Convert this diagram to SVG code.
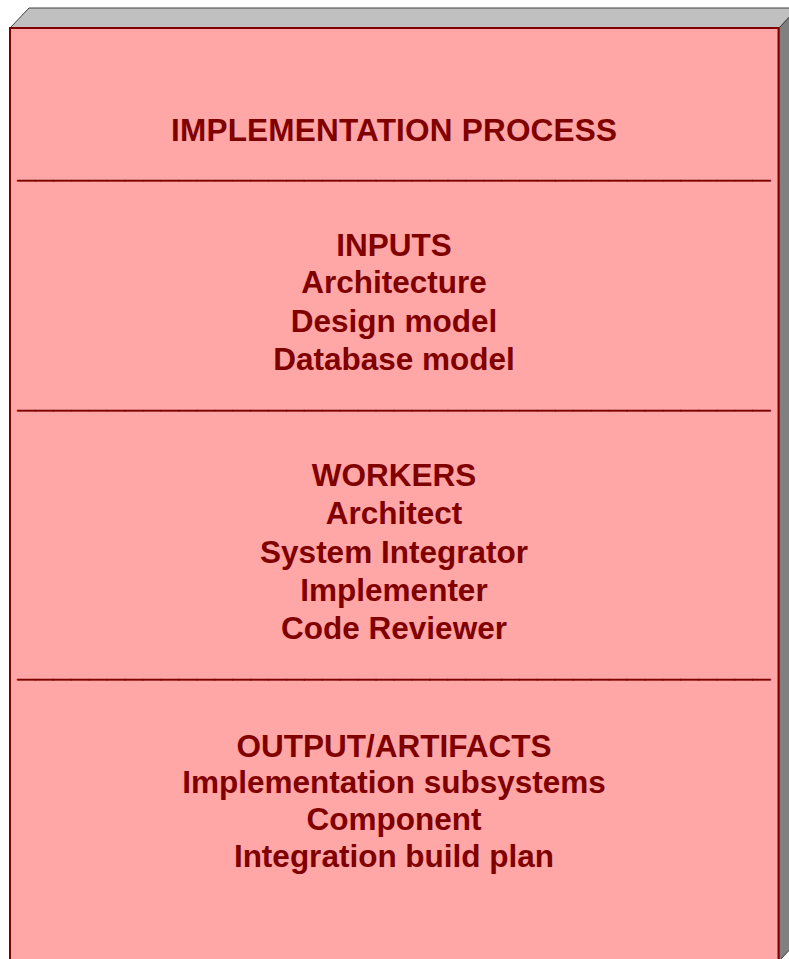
<svg xmlns="http://www.w3.org/2000/svg" width="789" height="959" viewBox="0 0 789 959">
<style>
.t{font-family:"Liberation Sans",Arial,Helvetica,sans-serif;font-weight:bold;font-size:31.5px;fill:#800000;text-anchor:middle}
.sep{stroke:#800000;stroke-width:0.45}
</style>
<rect x="0" y="0" width="789" height="959" fill="#ffffff"/>
<g id="node-implementation-process">
<polygon points="10,28 29,8 798,8 779,28" fill="#c0c0c0" stroke="#404040" stroke-width="1"/>
<polygon points="779,28 798,8 798,941 779,961" fill="#808080" stroke="#404040" stroke-width="1"/>
<rect x="10" y="28" width="768.5" height="932" fill="#ffa6a6" stroke="#800000" stroke-width="2"/>
<text class="t" x="394" y="141" textLength="446" lengthAdjust="spacing">IMPLEMENTATION PROCESS</text>
<text class="t sep" x="394" y="177" textLength="753" lengthAdjust="spacingAndGlyphs">__________________________________________</text>
<text class="t" x="394" y="256">INPUTS</text>
<text class="t" x="394" y="293">Architecture</text>
<text class="t" x="394" y="331.5">Design model</text>
<text class="t" x="394" y="369.5">Database model</text>
<text class="t sep" x="394" y="407" textLength="753" lengthAdjust="spacingAndGlyphs">__________________________________________</text>
<text class="t" x="394" y="486">WORKERS</text>
<text class="t" x="394" y="524.3">Architect</text>
<text class="t" x="394" y="562.7">System Integrator</text>
<text class="t" x="394" y="600.7">Implementer</text>
<text class="t" x="394" y="639.3">Code Reviewer</text>
<text class="t sep" x="394" y="676" textLength="753" lengthAdjust="spacingAndGlyphs">__________________________________________</text>
<text class="t" x="394" y="756.7">OUTPUT/ARTIFACTS</text>
<text class="t" x="394" y="793.3">Implementation subsystems</text>
<text class="t" x="394" y="830">Component</text>
<text class="t" x="394" y="866.7">Integration build plan</text>
</g>
<g id="connectors"/>
</svg>
